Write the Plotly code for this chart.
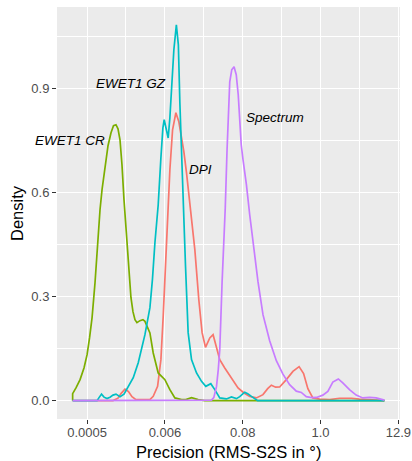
import numpy as np
import plotly.graph_objects as go

# --- data (precision in degrees, log x-axis) ---
dpi_x = [0.000290, 0.001092, 0.001287, 0.001420, 0.001619, 0.001816, 0.002036, 0.002322, 0.003674, 0.004094,
         0.004729, 0.005270, 0.005683, 0.006148, 0.006694, 0.007079, 0.007733, 0.008617, 0.009508, 0.01039,
         0.01120, 0.01224, 0.01320, 0.01409, 0.01607, 0.01832, 0.02040, 0.02281, 0.02627, 0.02928,
         0.03273, 0.03646, 0.04295, 0.05351, 0.06643, 0.08088, 0.09750, 0.1214, 0.1508, 0.1759,
         0.1986, 0.2287, 0.2607, 0.3247, 0.4032, 0.4941, 0.5726, 0.6594, 0.7767, 0.9674,
         1.343, 1.864, 2.762, 3.592, 8.15]
dpi_y = [0, 0, 0.0072, 0.0202, 0.0332, 0.026, 0.0115, 0.0029, 0.0029, 0.0124,
         0.0413, 0.1183, 0.2432, 0.3874, 0.551, 0.6663, 0.7817, 0.8308, 0.8048, 0.7624,
         0.7183, 0.6568, 0.5942, 0.551, 0.4356, 0.2913, 0.1962, 0.1538, 0.1809, 0.1904,
         0.1566, 0.1183, 0.0943, 0.0655, 0.0366, 0.0222, 0.0124, 0.0078, 0.0173, 0.0346,
         0.0447, 0.0389, 0.0395, 0.0606, 0.0845, 0.0981, 0.0779, 0.0346, 0.0078, 0.0043,
         0.0029, 0.0069, 0.0069, 0.0043, 0]

cr_x = [0.000290, 0.000290, 0.000325, 0.000370, 0.000422, 0.000466, 0.000506, 0.000549, 0.000605, 0.000647,
        0.000713, 0.000762, 0.000840, 0.000927, 0.001023, 0.001110, 0.001205, 0.001287, 0.001374, 0.001467,
        0.001567, 0.001673, 0.001846, 0.001971, 0.002104, 0.002247, 0.002399, 0.002647, 0.002921, 0.003119,
        0.003674, 0.004094, 0.004824, 0.006010, 0.007079, 0.008340, 0.01039, 0.01196, 0.01441, 0.01790,
        0.02230, 8.15]
cr_y = [0, 0.020, 0.0375, 0.0606, 0.0952, 0.1327, 0.1817, 0.2394, 0.3404, 0.4356,
        0.551, 0.6087, 0.6808, 0.7356, 0.7731, 0.7933, 0.7962, 0.7846, 0.7529, 0.6808,
        0.5798, 0.4933, 0.3779, 0.2971, 0.2567, 0.2337, 0.225, 0.2308, 0.2337, 0.2288,
        0.1953, 0.1376, 0.0799, 0.0606, 0.0317, 0.0078, 0.0029, 0.0029, 0.0087, 0.0029,
        0, 0]

gz_x = [0.000290, 0.000647, 0.000690, 0.000749, 0.000813, 0.000897, 0.000990, 0.001092, 0.001205, 0.001374,
        0.001567, 0.001804, 0.002125, 0.002503, 0.002799, 0.003119, 0.003674, 0.003988, 0.004329, 0.004824,
        0.005270, 0.005627, 0.005872, 0.006209, 0.006694, 0.007079, 0.007557, 0.008071, 0.008759, 0.009354,
        0.009824, 0.01039, 0.01095, 0.01184, 0.01290, 0.01441, 0.01699, 0.02001, 0.02304, 0.02715,
        0.03095, 0.03646, 0.04542, 0.05351, 0.06305, 0.07025, 0.08276, 0.09130, 0.1031, 0.1149,
        0.1267, 8.15]
gz_y = [0, 0, 0.0087, 0.0188, 0.0101, 0.0058, 0.0101, 0.0159, 0.0188, 0.0115,
        0.0188, 0.0404, 0.0663, 0.1096, 0.1529, 0.1904, 0.2683, 0.349, 0.4558, 0.5654,
        0.701, 0.7875, 0.8106, 0.7904, 0.7578, 0.8164, 0.9115, 1.0125, 1.0846, 1.0269,
        0.8596, 0.7096, 0.5596, 0.3865, 0.1962, 0.1183, 0.0799, 0.0557, 0.0413, 0.049,
        0.0317, 0.0078, 0.0049, 0.0107, 0.0058, 0.0115, 0.0245, 0.0202, 0.0124, 0.0049,
        0, 0]

spec_x = [0.000290, 0.02778, 0.02995, 0.03273, 0.03471, 0.03646, 0.03932, 0.04157, 0.04367, 0.04632,
          0.04818, 0.05061, 0.05404, 0.05829, 0.06264, 0.06688, 0.07025, 0.07379, 0.07827, 0.08750,
          0.09750, 0.1086, 0.1280, 0.1508, 0.1878, 0.2339, 0.2905, 0.3619, 0.4507, 0.5311,
          0.6256, 0.7441, 0.8768, 1.078, 1.270, 1.496, 1.792, 2.077, 2.586, 3.223,
          4.001, 4.985, 6.209, 8.15]
spec_y = [0, 0.0014, 0.0087, 0.0404, 0.0894, 0.1471, 0.3404, 0.45, 0.5567, 0.724,
          0.8394, 0.9202, 0.9548, 0.9635, 0.9404, 0.8827, 0.8106, 0.7385, 0.6952, 0.6231,
          0.5365, 0.4587, 0.3433, 0.2481, 0.1731, 0.1154, 0.0764, 0.0462, 0.0274, 0.0237,
          0.0115, 0.0087, 0.0092, 0.0159, 0.0268, 0.0534, 0.0626, 0.0511, 0.0317, 0.0159,
          0.0078, 0.0092, 0.0078, 0.0014]

series_names = ["DPI", "EWET1 CR", "EWET1 GZ", "Spectrum"]
series_colors = ["#F8766D", "#7CAE00", "#00BFC4", "#C77CFF"]

x_tick_vals = [12.9 ** k for k in range(-3, 2)]
x_tick_text = ["0.0005", "0.006", "0.08", "1.0", "12.9"]
x_minor_vals = [12.9 ** (k + 0.5) for k in range(-3, 1)]
y_tick_vals = [0.0, 0.3, 0.6, 0.9]
y_tick_text = ["0.0", "0.3", "0.6", "0.9"]
y_minor_vals = [0.15, 0.45, 0.75, 1.05]

# label anchors (precision, density)
label_text = ["EWET1 GZ", "EWET1 CR", "DPI", "Spectrum"]
label_x = [0.001971, 0.000267, 0.01956, 0.2235]
label_y = [0.914, 0.750, 0.666, 0.818]

FONT = "Liberation Sans, Arial, sans-serif"

fig = go.Figure()
for xs, ys, name, col in zip([dpi_x, cr_x, gz_x, spec_x], [dpi_y, cr_y, gz_y, spec_y],
                             series_names, series_colors):
    fig.add_trace(go.Scatter(x=xs, y=ys, mode="lines", name=name,
                             line=dict(color=col, width=1.7), showlegend=False))

for t, lx, ly in zip(label_text, label_x, label_y):
    fig.add_annotation(x=np.log10(lx), y=ly, xref="x", yref="y", text=f"<i>{t}</i>",
                       showarrow=False, font=dict(size=13.5, color="black", family=FONT))

# axis titles
fig.add_annotation(x=0.5, y=-0.080, xref="paper", yref="paper", text="Precision (RMS-S2S in °)",
                   showarrow=False, xanchor="center", yanchor="middle",
                   font=dict(size=16.5, color="black", family=FONT))
fig.add_annotation(x=-0.1166, y=0.5, xref="paper", yref="paper", text="Density", textangle=-90,
                   showarrow=False, xanchor="center", yanchor="middle",
                   font=dict(size=16.5, color="black", family=FONT))

axis_font = dict(size=13, color="#4D4D4D", family=FONT)
fig.update_layout(
    width=412, height=461,
    margin=dict(l=57, r=12, t=7, b=42, autoexpand=False),
    paper_bgcolor="white", plot_bgcolor="#EBEBEB",
    font=dict(family=FONT),
    xaxis=dict(type="log", range=[-3.7608, 1.1336], tickmode="array", automargin=False,
               tickvals=x_tick_vals, ticktext=x_tick_text, tickfont=axis_font,
               ticks="outside", ticklen=4, tickwidth=1, tickcolor="#333333",
               ticklabelstandoff=-3,
               showgrid=True, gridcolor="white", gridwidth=1.1, zeroline=False, showline=False,
               minor=dict(tickmode="array", tickvals=x_minor_vals, showgrid=True,
                          gridcolor="white", gridwidth=0.6)),
    yaxis=dict(range=[-0.053, 1.136], tickmode="array", tickvals=y_tick_vals, automargin=False,
               ticktext=y_tick_text, tickfont=axis_font,
               ticks="outside", ticklen=4, tickwidth=1, tickcolor="#333333",
               showgrid=True, gridcolor="white", gridwidth=1.1, zeroline=False, showline=False,
               minor=dict(tickmode="array", tickvals=y_minor_vals, showgrid=True,
                          gridcolor="white", gridwidth=0.6)),
)

fig.write_html("out.html", config={"displayModeBar": False},
               post_script="document.body.style.margin='0';document.body.style.overflow='hidden';")
